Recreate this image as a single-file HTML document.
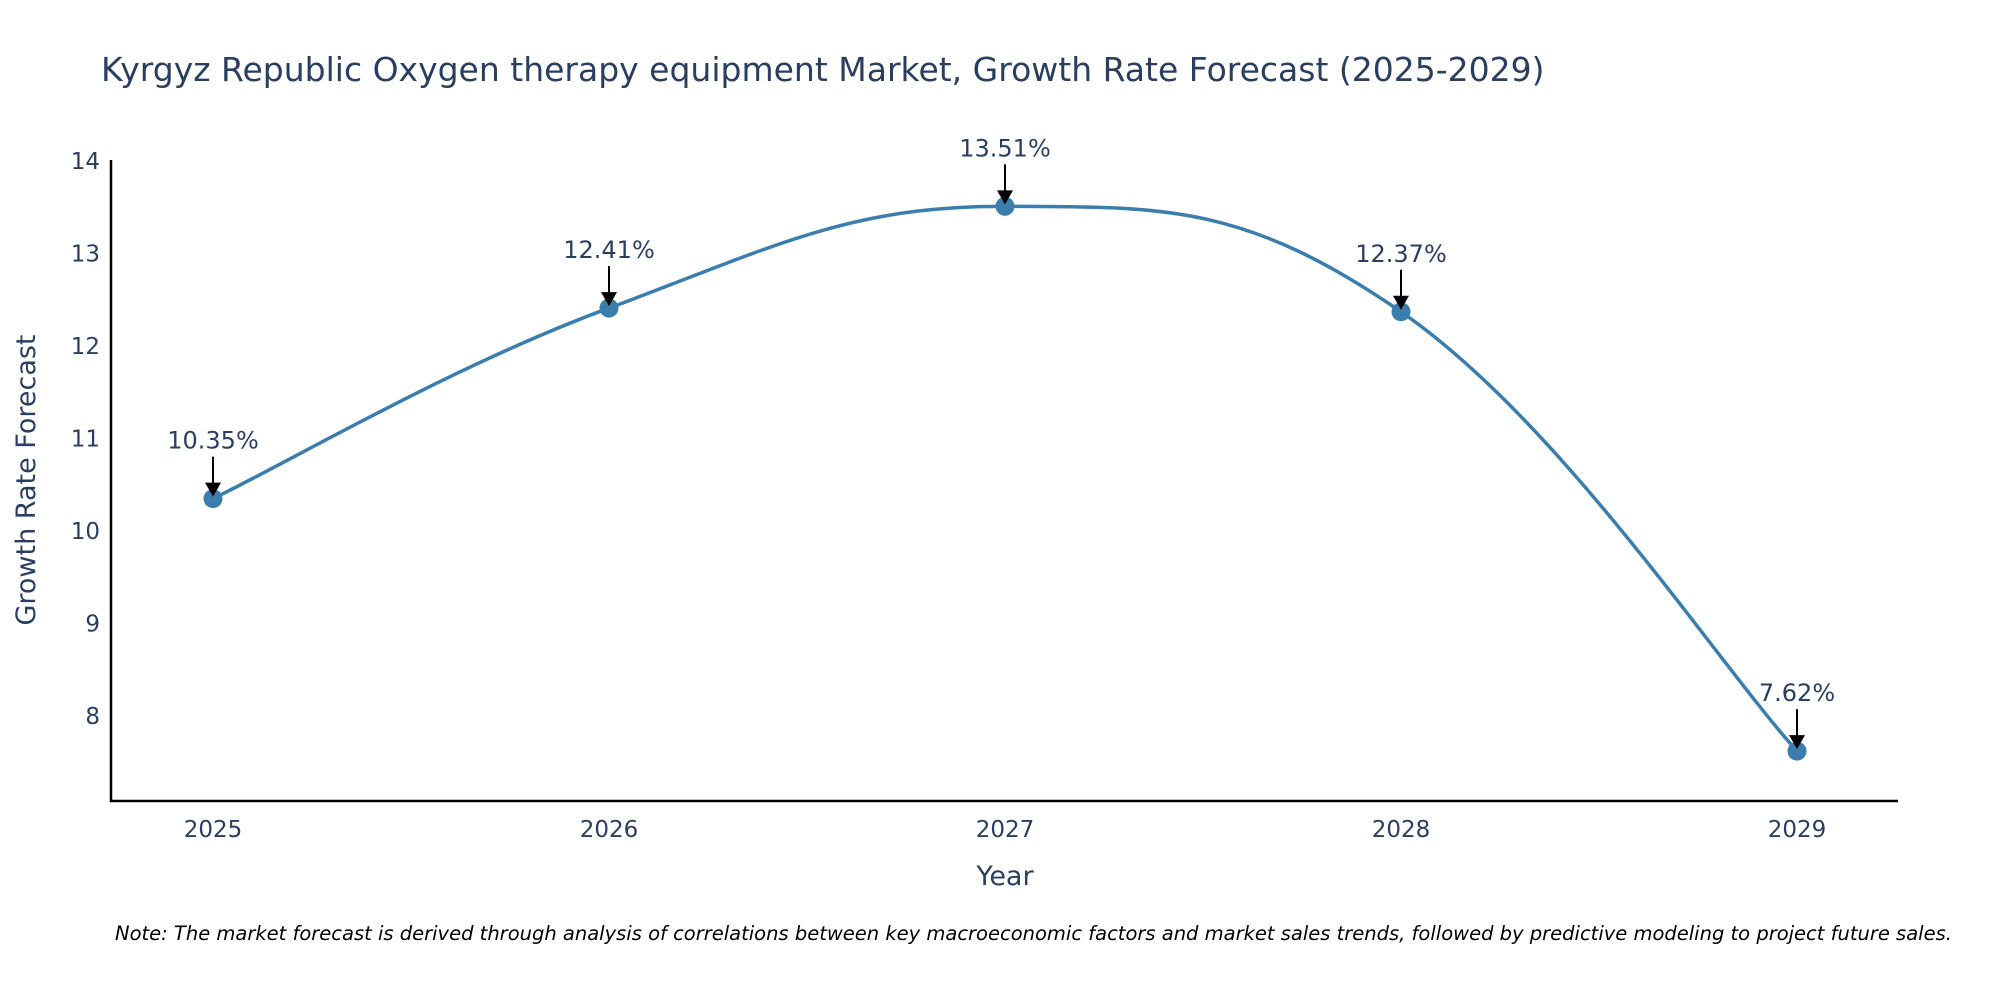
<!DOCTYPE html>
<html><head><meta charset="utf-8"><style>
body{margin:0;background:#fff;}
svg{display:block;font-family:"DejaVu Sans","Liberation Sans",sans-serif;}
</style></head><body>
<svg id="chart" width="2000" height="1000" viewBox="0 0 2000 1000" xmlns="http://www.w3.org/2000/svg">
<text x="101" y="81" font-size="33" fill="#2a3f5f">Kyrgyz Republic Oxygen therapy equipment Market, Growth Rate Forecast (2025-2029)</text>
<line x1="111" y1="160" x2="111" y2="802" stroke="#000" stroke-width="2.5"/>
<line x1="110" y1="801" x2="1898" y2="801" stroke="#000" stroke-width="2.5"/>
<g id="yticks"></g><g id="xticks"></g>
<text transform="translate(35,480) rotate(-90)" text-anchor="middle" font-size="27" fill="#2a3f5f">Growth Rate Forecast</text>
<text x="1005" y="885" text-anchor="middle" font-size="27" fill="#2a3f5f">Year</text>
<g id="series"></g>
<text x="115" y="940" font-size="19.5" font-style="italic" fill="#000">Note: The market forecast is derived through analysis of correlations between key macroeconomic factors and market sales trends, followed by predictive modeling to project future sales.</text>
</svg>
<script>
const years=[2025,2026,2027,2028,2029];
const values=[10.35,12.41,13.51,12.37,7.62];
const labels=["10.35%","12.41%","13.51%","12.37%","7.62%"];
const yTicks=[8,9,10,11,12,13,14];
const NS="http://www.w3.org/2000/svg";
const xs=y=>213+(y-2025)*396;
const ys=v=>716-(v-8)*92.5;
function mk(t,a,p){const e=document.createElementNS(NS,t);for(const k in a)e.setAttribute(k,a[k]);p.appendChild(e);return e;}
const yt=document.getElementById('yticks');
yTicks.forEach(v=>{const t=mk('text',{x:100,y:ys(v)+8,'text-anchor':'end','font-size':23,fill:'#2a3f5f'},yt);t.textContent=v;

});
const xt=document.getElementById('xticks');
years.forEach(y=>{const t=mk('text',{x:xs(y),y:837,'text-anchor':'middle','font-size':23,fill:'#2a3f5f'},xt);t.textContent=y;

});
const s=document.getElementById('series');
const P=years.map((y,i)=>[xs(y),ys(values[i])]);
let d=`M${P[0][0]},${P[0][1]}`;const tn=0.2;
for(let i=0;i<P.length-1;i++){const p0=P[i-1]||P[i],p1=P[i],p2=P[i+1],p3=P[i+2]||P[i+1];
d+=` C${p1[0]+(p2[0]-p0[0])*tn},${p1[1]+(p2[1]-p0[1])*tn} ${p2[0]-(p3[0]-p1[0])*tn},${p2[1]-(p3[1]-p1[1])*tn} ${p2[0]},${p2[1]}`;}
const path=mk('path',{d:d,fill:'none',stroke:'#3b7eae','stroke-width':3.5},s);


P.forEach((p,i)=>{const c=mk('circle',{cx:p[0],cy:p[1],r:9.5,fill:'#3b7eae'},s);


const a=mk('line',{x1:p[0],y1:p[1]-42,x2:p[0],y2:p[1]-12,stroke:'#000','stroke-width':2},s);


const h=mk('path',{d:`M${p[0]-8},${p[1]-16} L${p[0]+8},${p[1]-16} L${p[0]},${p[1]-2} z`,fill:'#000'},s);


const t=mk('text',{x:p[0],y:p[1]-50,'text-anchor':'middle','font-size':24,fill:'#2a3f5f'},s);t.textContent=labels[i];

});
</script>
</body></html>
